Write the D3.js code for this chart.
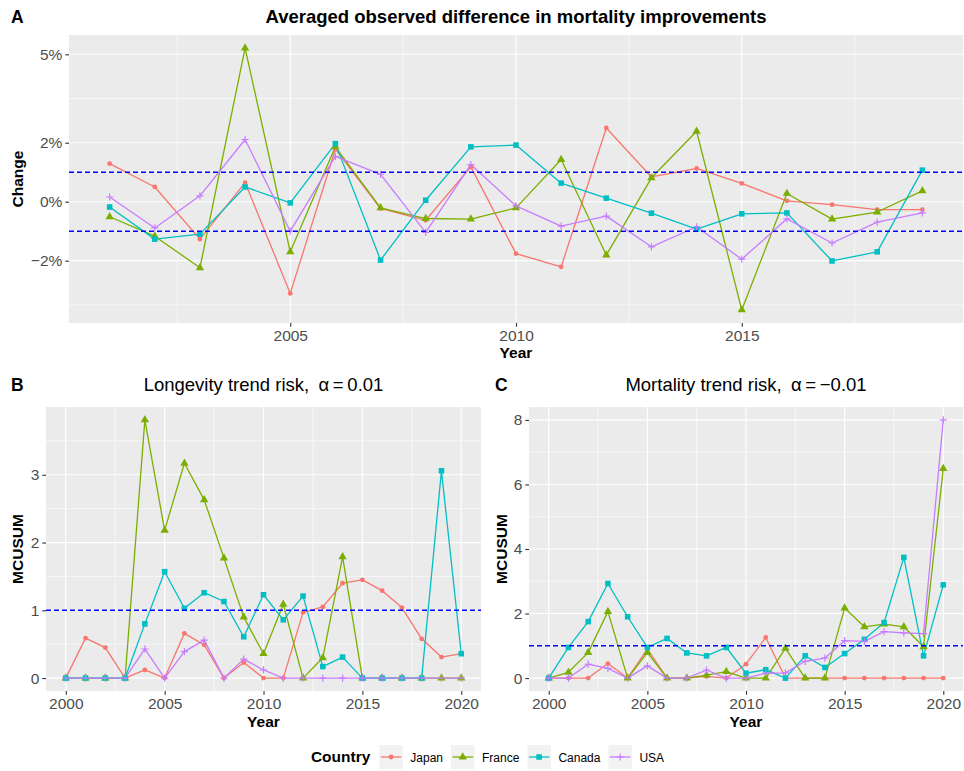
<!DOCTYPE html>
<html><head><meta charset="utf-8">
<script src="https://cdn.jsdelivr.net/npm/d3@7"></script>
<style>
body{margin:0;background:#fff}
svg{display:block}
text{font-family:"Liberation Sans",Arial,Helvetica,sans-serif}
</style>
</head><body>
<svg id="chart" width="964" height="771"></svg>
<script>
// ---------------- data ----------------
const countries = ["Japan", "France", "Canada", "USA"];
const countryColors = ["#F8766D", "#7CAE00", "#00BFC4", "#C77CFF"];
const countryShapes = ["circle", "triangle", "square", "plus"];

// Panel A : averaged observed difference in mortality improvements (in %)
const yearsA = [2001,2002,2003,2004,2005,2006,2007,2008,2009,2010,2011,2012,2013,2014,2015,2016,2017,2018,2019];
const changeJapan  = [1.29,0.50,-1.27,0.65,-3.11,1.78,-0.23,-0.63,1.18,-1.76,-2.21,2.50,0.84,1.13,0.62,0.03,-0.10,-0.27,-0.27];
const changeFrance = [-0.51,-1.17,-2.24,5.21,-1.70,1.86,-0.21,-0.57,-0.59,-0.21,1.43,-1.81,0.81,2.39,-3.67,0.28,-0.59,-0.35,0.37];
const changeCanada = [-0.18,-1.27,-1.10,0.50,-0.04,1.97,-1.98,0.05,1.86,1.92,0.63,0.12,-0.39,-0.93,-0.41,-0.38,-2.01,-1.70,1.07];
const changeUSA    = [0.16,-0.89,0.20,2.11,-1.00,1.54,0.93,-1.04,1.26,-0.14,-0.83,-0.49,-1.53,-0.85,-1.95,-0.58,-1.40,-0.69,-0.38];
const changeThresholds = [1, -1];
const changeTicks = [-2, 0, 2, 5];
const changeMinor = [-3.5, -1, 1, 3.5];
const yearTicksA = [2005, 2010, 2015];
const yearMinorA = [2002.5, 2007.5, 2012.5, 2017.5];

// Panels B and C : MCUSUM
const yearsBC = [2000,2001,2002,2003,2004,2005,2006,2007,2008,2009,2010,2011,2012,2013,2014,2015,2016,2017,2018,2019,2020];
const longJapan  = [0,0.59,0.45,0,0.12,0,0.66,0.49,0,0.23,0,0,0.97,1.05,1.40,1.45,1.29,1.04,0.58,0.31,0.36];
const longFrance = [0,0,0,0,3.81,2.18,3.17,2.63,1.77,0.90,0.36,1.09,0,0.30,1.79,0,0,0,0,0,0];
const longCanada = [0,0,0,0,0.80,1.57,1.03,1.26,1.13,0.61,1.23,0.86,1.21,0.17,0.31,0,0,0,0,3.06,0.36];
const longUSA    = [0,0,0,0,0.43,0,0.39,0.56,0,0.28,0.12,0,0,0,0,0,0,0,0,0,0];

const mortJapan  = [0,0,0,0.45,0,0.90,0,0,0.05,0,0.43,1.26,0,0,0,0,0,0,0,0,0];
const mortFrance = [0,0.18,0.79,2.06,0,0.79,0,0,0.09,0.20,0,0,0.92,0,0,2.17,1.59,1.67,1.59,0.97,6.49];
const mortCanada = [0,0.95,1.75,2.93,1.90,0.95,1.23,0.78,0.69,0.95,0.15,0.26,0,0.69,0.33,0.76,1.20,1.72,3.74,0.69,2.89];
const mortUSA    = [0,0,0.43,0.30,0,0.38,0,0,0.25,0,0,0.15,0.16,0.52,0.62,1.16,1.14,1.44,1.40,1.38,8.00];

const mcusumThreshold = [1];
const yearTicksBC = [2000, 2005, 2010, 2015, 2020];
const yearMinorBC = [2002.5, 2007.5, 2012.5, 2017.5];
const longTicks = [0, 1, 2, 3];
const longMinor = [0.5, 1.5, 2.5, 3.5];
const mortTicks = [0, 2, 4, 6, 8];
const mortMinor = [1, 3, 5, 7];

// ---------------- drawing ----------------
const svg = d3.select("#chart");
const FONT_TICK = 15.5, FONT_AXIS = 15.5, FONT_TITLE = 18.5, FONT_TAG = 17.5;

function expand(ext) {
  const d = ext[1] - ext[0];
  return [ext[0] - 0.05 * d, ext[1] + 0.05 * d];
}

function drawSymbol(g, shape, color, cx, cy) {
  if (shape === "plus") {
    const s = 3.6;
    g.append("path").attr("d", `M${cx - s},${cy}H${cx + s}M${cx},${cy - s}V${cy + s}`)
      .attr("stroke", color).attr("stroke-width", 1.15).attr("fill", "none");
  } else {
    const t = shape === "circle" ? d3.symbolCircle : shape === "triangle" ? d3.symbolTriangle : d3.symbolSquare;
    const size = shape === "circle" ? 18 : shape === "triangle" ? 30 : 31;
    g.append("path").attr("d", d3.symbol().type(t).size(size)())
      .attr("transform", `translate(${cx},${cy})`).attr("fill", color);
  }
}

function drawPanel(cfg) {
  const g = svg.append("g");
  const allVals = cfg.series.flat();
  const x = d3.scaleLinear().domain(expand(d3.extent(cfg.years))).range([cfg.left, cfg.right]);
  const y = d3.scaleLinear().domain(expand(d3.extent(allVals))).range([cfg.bottom, cfg.top]);

  g.append("rect").attr("x", cfg.left).attr("y", cfg.top)
    .attr("width", cfg.right - cfg.left).attr("height", cfg.bottom - cfg.top).attr("fill", "#EBEBEB");

  // minor grid
  g.selectAll(null).data(cfg.xMinor.filter(v => v >= x.domain()[0] && v <= x.domain()[1])).join("line")
    .attr("x1", d => x(d)).attr("x2", d => x(d)).attr("y1", cfg.top).attr("y2", cfg.bottom)
    .attr("stroke", "#fff").attr("stroke-width", 0.6);
  g.selectAll(null).data(cfg.yMinor.filter(v => v >= y.domain()[0] && v <= y.domain()[1])).join("line")
    .attr("y1", d => y(d)).attr("y2", d => y(d)).attr("x1", cfg.left).attr("x2", cfg.right)
    .attr("stroke", "#fff").attr("stroke-width", 0.6);
  // major grid
  g.selectAll(null).data(cfg.xTicks).join("line")
    .attr("x1", d => x(d)).attr("x2", d => x(d)).attr("y1", cfg.top).attr("y2", cfg.bottom)
    .attr("stroke", "#fff").attr("stroke-width", 1.15);
  g.selectAll(null).data(cfg.yTicks).join("line")
    .attr("y1", d => y(d)).attr("y2", d => y(d)).attr("x1", cfg.left).attr("x2", cfg.right)
    .attr("stroke", "#fff").attr("stroke-width", 1.15);

  // axes
  const xa = g.append("g").attr("transform", `translate(0,${cfg.bottom})`)
    .call(d3.axisBottom(x).tickValues(cfg.xTicks).tickFormat(d3.format("d")).tickSize(3.7).tickPadding(3));
  const ya = g.append("g").attr("transform", `translate(${cfg.left},0)`)
    .call(d3.axisLeft(y).tickValues(cfg.yTicks).tickFormat(cfg.yFormat).tickSize(3.7).tickPadding(3));
  [xa, ya].forEach(a => {
    a.select(".domain").remove();
    a.selectAll(".tick line").attr("stroke", "#333333").attr("stroke-width", 1.1);
    a.selectAll(".tick text").attr("fill", "#4D4D4D").attr("font-size", FONT_TICK)
      .attr("font-family", '"Liberation Sans",Arial,sans-serif');
  });

  // lines
  const line = d3.line().x(d => x(d[0])).y(d => y(d[1]));
  cfg.series.forEach((vals, i) => {
    g.append("path").datum(cfg.years.map((yr, j) => [yr, vals[j]]))
      .attr("d", line).attr("fill", "none").attr("stroke", countryColors[i])
      .attr("stroke-width", 1.3).attr("stroke-linejoin", "round");
  });
  // points
  cfg.series.forEach((vals, i) => {
    const pg = g.append("g");
    cfg.years.forEach((yr, j) => drawSymbol(pg, countryShapes[i], countryColors[i], x(yr), y(vals[j])));
  });
  // thresholds
  g.selectAll(null).data(cfg.hlines).join("line")
    .attr("x1", cfg.left).attr("x2", cfg.right).attr("y1", d => y(d)).attr("y2", d => y(d))
    .attr("stroke", "#0000FF").attr("stroke-width", 1.5).attr("stroke-dasharray", "5,3");

  // titles
  const cx = (cfg.left + cfg.right) / 2;
  const t = g.append("text").attr("x", cx).attr("y", cfg.titleY).attr("text-anchor", "middle")
    .attr("font-size", FONT_TITLE).attr("font-weight", cfg.titleBold ? "bold" : "normal").attr("fill", "#000")
    .style("white-space", "pre");
  cfg.title.forEach(part => t.append("tspan").text(part));
  g.append("text").attr("x", cfg.tagX).attr("y", cfg.titleY).attr("font-size", FONT_TAG)
    .attr("font-weight", "bold").text(cfg.tag);
  g.append("text").attr("x", cx).attr("y", cfg.bottom + cfg.xTitleOff).attr("text-anchor", "middle")
    .attr("font-size", FONT_AXIS).attr("font-weight", "bold").text("Year");
  g.append("text").attr("transform", `translate(${cfg.yTitleX},${(cfg.top + cfg.bottom) / 2}) rotate(-90)`)
    .attr("text-anchor", "middle").attr("dy", "0.35em")
    .attr("font-size", FONT_AXIS).attr("font-weight", "bold").text(cfg.ylabel);
}

const pctFmt = d => (d < 0 ? "\u2212" + Math.abs(d) : d) + "%";
const numFmt = d => String(d);

drawPanel({
  left: 69, right: 963, top: 35, bottom: 323,
  years: yearsA, series: [changeJapan, changeFrance, changeCanada, changeUSA],
  xTicks: yearTicksA, xMinor: yearMinorA, yTicks: changeTicks, yMinor: changeMinor, yFormat: pctFmt,
  hlines: changeThresholds,
  title: ["Averaged observed difference in mortality improvements"], titleBold: true, titleY: 23,
  tag: "A", tagX: 11, ylabel: "Change", yTitleX: 18, xTitleOff: 35
});
drawPanel({
  left: 46, right: 481, top: 407, bottom: 691,
  years: yearsBC, series: [longJapan, longFrance, longCanada, longUSA],
  xTicks: yearTicksBC, xMinor: yearMinorBC, yTicks: longTicks, yMinor: longMinor, yFormat: numFmt,
  hlines: mcusumThreshold,
  title: ["Longevity trend risk,\u2002\u03B1\u2009=\u20090.01"], titleBold: false, titleY: 391,
  tag: "B", tagX: 11, ylabel: "MCUSUM", yTitleX: 18, xTitleOff: 36
});
drawPanel({
  left: 529, right: 963, top: 407, bottom: 691,
  years: yearsBC, series: [mortJapan, mortFrance, mortCanada, mortUSA],
  xTicks: yearTicksBC, xMinor: yearMinorBC, yTicks: mortTicks, yMinor: mortMinor, yFormat: numFmt,
  hlines: mcusumThreshold,
  title: ["Mortality trend risk,\u2002\u03B1\u2009=\u2009\u22120.01"], titleBold: false, titleY: 391,
  tag: "C", tagX: 495, ylabel: "MCUSUM", yTitleX: 502, xTitleOff: 36
});

// ---------------- legend ----------------
const lg = svg.append("g");
const keyW = 23.5, keyH = 24, keyTop = 745, legBase = 762;
const lt = lg.append("text").attr("y", legBase).attr("font-size", 15.5).attr("font-weight", "bold").text("Country");
const titleW = lt.node().getComputedTextLength();
const items = countries.map((c, i) => {
  const tx = lg.append("text").attr("y", legBase).attr("font-size", 12).attr("fill", "#000").text(c);
  return {c, i, tx, w: tx.node().getComputedTextLength()};
});
const gapTitle = 9, gapKeyLab = 7.5, gapItem = 8;
let total = titleW + gapTitle + items.reduce((s, it) => s + keyW + gapKeyLab + it.w, 0) + gapItem * (items.length - 1);
let cur = 487.5 - total / 2;
lt.attr("x", cur);
cur += titleW + gapTitle;
items.forEach(it => {
  lg.append("rect").attr("x", cur).attr("y", keyTop).attr("width", keyW).attr("height", keyH).attr("fill", "#F2F2F2");
  lg.append("line").attr("x1", cur + 1.5).attr("x2", cur + keyW - 1.5)
    .attr("y1", keyTop + keyH / 2).attr("y2", keyTop + keyH / 2)
    .attr("stroke", countryColors[it.i]).attr("stroke-width", 1.3);
  drawSymbol(lg, countryShapes[it.i], countryColors[it.i], cur + keyW / 2, keyTop + keyH / 2);
  it.tx.attr("x", cur + keyW + gapKeyLab);
  cur += keyW + gapKeyLab + it.w + gapItem;
});
</script>
</body></html>
